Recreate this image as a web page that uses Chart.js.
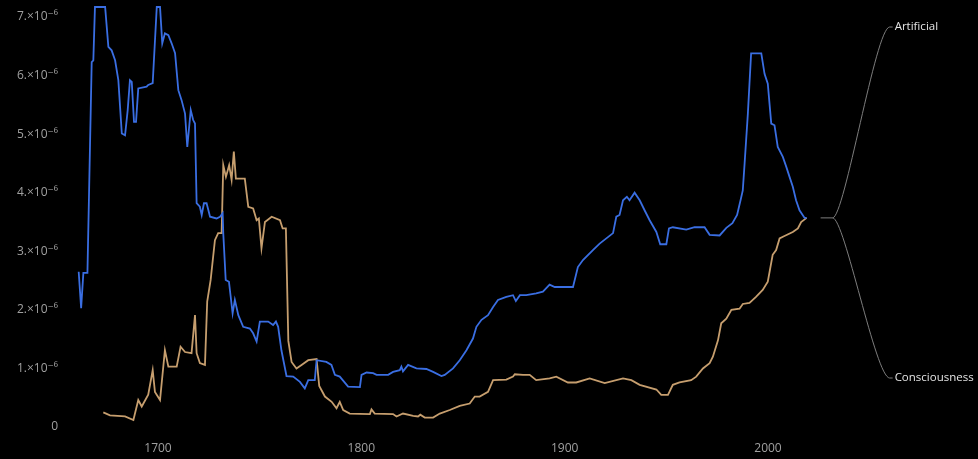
<!DOCTYPE html>
<html>
<head>
<meta charset="utf-8">
<script src="https://cdn.jsdelivr.net/npm/chart.js@4.4.1/dist/chart.umd.min.js"></script>
<style>
  html, body { margin: 0; padding: 0; background: #000; }
  #wrap { width: 978px; height: 459px; }
</style>
</head>
<body>
<div id="wrap"><canvas id="c" width="978" height="459"></canvas></div>
<script>
// ---- data ----
const seriesNames = ["Artificial", "Consciousness"];

const artificialYears = [1661,1662.2,1663.3,1665.3,1667.4,1668.2,1669,1674,1675.6,1677.2,1678.9,1680.5,1682.2,1683.8,1685.1,1686.2,1687.1,1688.2,1689.2,1690.3,1694.4,1695.2,1697.4,1699.4,1701,1702.1,1703.4,1705.1,1706.7,1708.4,1710,1711.6,1713.3,1714.4,1716.1,1717.3,1718.2,1719,1720.6,1721.5,1722.6,1723.9,1725.6,1728.8,1730.5,1731.8,1732.1,1733.3,1734.9,1736.7,1737.8,1739.5,1741.9,1745.2,1746.8,1748.5,1750.1,1754.2,1756.6,1758,1759.1,1760.7,1763.2,1766.5,1769.8,1772.2,1773.9,1777.1,1778,1782.8,1785.3,1787,1789.4,1793.5,1799.3,1800.1,1802.6,1805.8,1807.5,1813.2,1815.6,1818.9,1819.7,1820.5,1823,1827.1,1832,1835.3,1839.4,1841,1845.1,1848.4,1851.7,1854.9,1856.6,1859.1,1862.3,1864.8,1867.2,1871.3,1874.6,1876,1878,1881.1,1886,1889.3,1892.6,1895.1,1904.1,1906.5,1909,1913.9,1917.2,1920.5,1923.8,1925.4,1927,1928.7,1930.6,1931.9,1934.4,1936.9,1939.3,1941.8,1945.1,1947,1950,1951.3,1953.2,1959.8,1963.9,1968.8,1971.3,1976.2,1979.5,1982.5,1984.8,1986.7,1987.6,1988.5,1990.1,1991.7,1996.7,1998.3,1999.9,2001.6,2003.2,2004.8,2007.3,2009,2010.6,2012.2,2013.8,2015.5,2018,2019];
const artificialValues = [2.65e-6,2.03e-6,2.63e-6,2.63e-6,6.23e-6,6.26e-6,7.17e-6,7.17e-6,6.49e-6,6.43e-6,6.26e-6,5.92e-6,5.01e-6,4.98e-6,5.41e-6,5.92e-6,5.89e-6,5.21e-6,5.21e-6,5.78e-6,5.81e-6,5.84e-6,5.87e-6,7.17e-6,7.17e-6,6.55e-6,6.72e-6,6.69e-6,6.55e-6,6.38e-6,5.75e-6,5.58e-6,5.35e-6,4.78e-6,5.41e-6,5.24e-6,5.18e-6,3.82e-6,3.76e-6,3.62e-6,3.82e-6,3.82e-6,3.59e-6,3.56e-6,3.59e-6,3.65e-6,3.31e-6,2.51e-6,2.48e-6,1.94e-6,2.17e-6,1.91e-6,1.71e-6,1.68e-6,1.60e-6,1.46e-6,1.80e-6,1.80e-6,1.74e-6,1.80e-6,1.71e-6,1.31e-6,0.87e-6,0.86e-6,0.77e-6,0.66e-6,0.80e-6,0.80e-6,1.14e-6,1.11e-6,1.06e-6,0.89e-6,0.86e-6,0.69e-6,0.68e-6,0.89e-6,0.93e-6,0.92e-6,0.89e-6,0.89e-6,0.94e-6,0.97e-6,1.03e-6,0.95e-6,1.06e-6,1.00e-6,0.99e-6,0.94e-6,0.87e-6,0.89e-6,1.00e-6,1.14e-6,1.31e-6,1.51e-6,1.71e-6,1.83e-6,1.91e-6,2.05e-6,2.17e-6,2.22e-6,2.25e-6,2.15e-6,2.25e-6,2.25e-6,2.28e-6,2.31e-6,2.43e-6,2.39e-6,2.39e-6,2.73e-6,2.85e-6,3.02e-6,3.13e-6,3.22e-6,3.31e-6,3.59e-6,3.62e-6,3.87e-6,3.93e-6,3.87e-6,4.00e-6,3.87e-6,3.70e-6,3.53e-6,3.33e-6,3.12e-6,3.12e-6,3.39e-6,3.41e-6,3.37e-6,3.41e-6,3.41e-6,3.28e-6,3.27e-6,3.40e-6,3.48e-6,3.62e-6,3.90e-6,4.04e-6,4.50e-6,5.35e-6,6.38e-6,6.38e-6,6.03e-6,5.86e-6,5.18e-6,5.15e-6,4.78e-6,4.61e-6,4.44e-6,4.27e-6,4.10e-6,3.87e-6,3.70e-6,3.57e-6,3.57e-6];

const consciousnessYears = [1673.1,1676.4,1683.8,1687.9,1690.3,1692,1695.2,1697.4,1698.5,1701,1703.4,1705.1,1709.2,1711.1,1713.3,1716.5,1718.2,1719,1720.6,1723.1,1724.2,1725.9,1728,1729.6,1731.3,1732.1,1733.4,1735,1736.2,1737.3,1738.3,1742.7,1744.4,1746.8,1748.5,1749.6,1750.9,1752.6,1755.9,1760,1761.3,1762.9,1764.1,1765.7,1768.1,1770.6,1773.9,1778,1779.3,1782.1,1785.4,1787.8,1789.4,1791.1,1794.3,1804.2,1805,1806.6,1815.6,1817.3,1820.5,1825.5,1827.9,1829,1831.2,1835.3,1838.6,1843.5,1848.4,1853.3,1855.8,1858.2,1862.3,1864.8,1871.3,1874.6,1875.5,1879.5,1882.8,1886,1892.6,1895.9,1901.6,1905.7,1912.3,1919.7,1928.7,1932.8,1936.9,1945.1,1947.5,1950.8,1953.2,1956.5,1962.2,1964.7,1968,1971.3,1972.9,1975.4,1977,1979.5,1982,1986,1987.6,1990.9,1994.1,1997.4,1999.9,2002.3,2004,2005.7,2008.1,2012.2,2014.7,2016.3,2019];
const consciousnessValues = [0.25e-6,0.20e-6,0.18e-6,0.12e-6,0.46e-6,0.35e-6,0.55e-6,0.97e-6,0.60e-6,0.46e-6,1.31e-6,1.03e-6,1.03e-6,1.37e-6,1.28e-6,1.26e-6,1.91e-6,1.26e-6,1.09e-6,1.06e-6,2.14e-6,2.51e-6,3.19e-6,3.31e-6,3.31e-6,4.47e-6,4.27e-6,4.47e-6,4.22e-6,4.70e-6,4.24e-6,4.24e-6,3.76e-6,3.73e-6,3.53e-6,3.56e-6,3.05e-6,3.50e-6,3.59e-6,3.53e-6,3.39e-6,3.39e-6,1.47e-6,1.11e-6,1.00e-6,1.06e-6,1.14e-6,1.16e-6,0.70e-6,0.52e-6,0.43e-6,0.32e-6,0.43e-6,0.29e-6,0.23e-6,0.22e-6,0.30e-6,0.23e-6,0.22e-6,0.18e-6,0.23e-6,0.19e-6,0.18e-6,0.21e-6,0.16e-6,0.16e-6,0.23e-6,0.29e-6,0.36e-6,0.40e-6,0.52e-6,0.52e-6,0.60e-6,0.80e-6,0.81e-6,0.86e-6,0.90e-6,0.89e-6,0.89e-6,0.80e-6,0.83e-6,0.86e-6,0.76e-6,0.76e-6,0.83e-6,0.75e-6,0.83e-6,0.80e-6,0.72e-6,0.64e-6,0.55e-6,0.55e-6,0.72e-6,0.76e-6,0.80e-6,0.86e-6,1.00e-6,1.09e-6,1.20e-6,1.48e-6,1.77e-6,1.85e-6,2.00e-6,2.02e-6,2.10e-6,2.12e-6,2.22e-6,2.34e-6,2.48e-6,2.94e-6,3.02e-6,3.22e-6,3.26e-6,3.33e-6,3.39e-6,3.50e-6,3.57e-6];

const xTickValues = [1700, 1800, 1900, 2000];
const xTickLabels = ["1700", "1800", "1900", "2000"];
const yTickValues = [0, 1e-6, 2e-6, 3e-6, 4e-6, 5e-6, 6e-6, 7e-6];
const yTickLabels = ["0", "1.\u00d710\u207b\u2076", "2.\u00d710\u207b\u2076", "3.\u00d710\u207b\u2076", "4.\u00d710\u207b\u2076", "5.\u00d710\u207b\u2076", "6.\u00d710\u207b\u2076", "7.\u00d710\u207b\u2076"];

// ---- styling ----
const seriesColors = ["rgb(58,110,226)", "rgb(198,158,110)"];
const tickFont = { family: "'Open Sans', 'DejaVu Sans', sans-serif", size: 12 };

function toPoints(xs, ys) { return xs.map((x, i) => ({ x: x, y: ys[i] })); }

const bgPlugin = {
  id: 'bg',
  beforeDraw(chart) {
    const ctx = chart.ctx;
    ctx.save();
    ctx.fillStyle = '#000';
    ctx.fillRect(0, 0, chart.width, chart.height);
    ctx.restore();
  }
};

// bracket style legend at the right end of the lines
const bracketLegend = {
  id: 'bracketLegend',
  afterDatasetsDraw(chart) {
    const ctx = chart.ctx;
    const xs = chart.scales.x, ys = chart.scales.y;
    const area = chart.chartArea;
    const lastX = Math.max(artificialYears[artificialYears.length - 1], consciousnessYears[consciousnessYears.length - 1]);
    const lastV = (artificialValues[artificialValues.length - 1] + consciousnessValues[consciousnessValues.length - 1]) / 2;
    const x0 = xs.getPixelForValue(lastX);
    const y0 = ys.getPixelForValue(lastV);
    const sx = x0 + 14, jx = x0 + 26, ex = x0 + 83, tx = x0 + 88;
    const labelYs = [area.top + 20, area.bottom - 49];
    ctx.save();
    ctx.strokeStyle = 'rgb(125,125,125)';
    ctx.lineWidth = 1;
    ctx.beginPath();
    ctx.moveTo(sx, y0);
    ctx.lineTo(jx, y0);
    ctx.stroke();
    labelYs.forEach((ly) => {
      ctx.beginPath();
      ctx.moveTo(jx, y0);
      ctx.bezierCurveTo(jx + 12, y0, ex - 14, ly, ex, ly);
      ctx.lineTo(tx - 2, ly);
      ctx.stroke();
    });
    ctx.fillStyle = 'rgb(228,228,228)';
    ctx.font = "11.5px 'Open Sans', sans-serif";
    ctx.textBaseline = 'middle';
    ctx.textAlign = 'left';
    seriesNames.forEach((name, i) => {
      ctx.fillText(name, tx, labelYs[i]);
    });
    ctx.restore();
  }
};

new Chart(document.getElementById('c'), {
  type: 'line',
  data: {
    datasets: [
      {
        label: seriesNames[0],
        data: toPoints(artificialYears, artificialValues),
        borderColor: seriesColors[0],
        borderWidth: 1.8,
        pointRadius: 0,
        tension: 0,
        clip: 3
      },
      {
        label: seriesNames[1],
        data: toPoints(consciousnessYears, consciousnessValues),
        borderColor: seriesColors[1],
        borderWidth: 1.8,
        pointRadius: 0,
        tension: 0,
        clip: 3
      }
    ]
  },
  options: {
    responsive: false,
    animation: false,
    events: [],
    layout: { padding: { left: 0, right: 128, top: 7, bottom: 0 } },
    plugins: {
      legend: { display: false },
      tooltip: { enabled: false }
    },
    scales: {
      x: {
        type: 'linear',
        min: 1660.66,
        max: 2040.33,
        grid: { display: false, drawTicks: false },
        border: { display: false },
        afterBuildTicks(scale) { scale.ticks = xTickValues.map(v => ({ value: v })); },
        afterFit(scale) { scale.height = 32; scale.paddingLeft = 0; scale.paddingRight = 0; },
        ticks: {
          color: 'rgb(160,160,160)',
          font: tickFont,
          padding: 14,
          maxRotation: 0,
          autoSkip: false,
          callback(value) { const i = xTickValues.indexOf(value); return i >= 0 ? xTickLabels[i] : ''; }
        }
      },
      y: {
        type: 'linear',
        min: 0,
        max: 7.17e-6,
        grid: { display: false, drawTicks: false },
        border: { display: false },
        afterBuildTicks(scale) { scale.ticks = yTickValues.map(v => ({ value: v })); },
        afterFit(scale) { scale.width = 78; scale.paddingTop = 0; scale.paddingBottom = 0; },
        ticks: {
          color: 'rgb(160,160,160)',
          font: tickFont,
          padding: 20,
          autoSkip: false,
          callback(value) { const i = yTickValues.indexOf(value); return i >= 0 ? yTickLabels[i] : ''; }
        }
      }
    }
  },
  plugins: [bgPlugin, bracketLegend]
});
</script>
</body>
</html>
